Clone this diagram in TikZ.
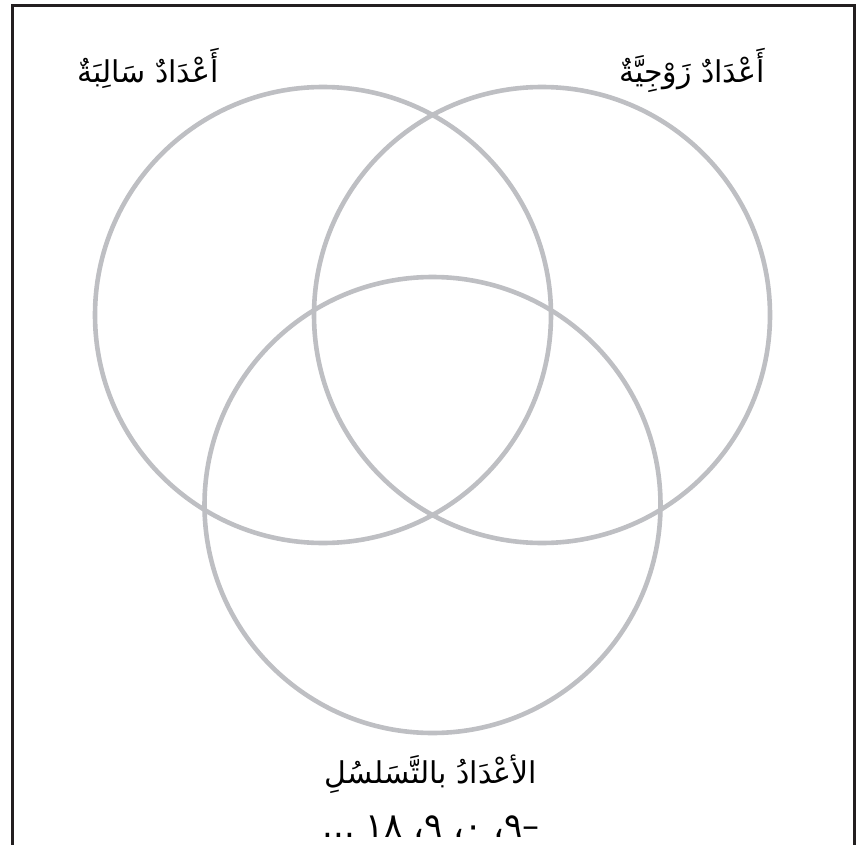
\documentclass[tikz,border=0pt]{standalone}
\usepackage{fontspec}
\TeXXeTstate=1
\newfontfamily\arabicfont[Script=Arabic]{DejaVu Sans}
\definecolor{setgray}{RGB}{190,191,195}
\definecolor{framecol}{RGB}{35,31,32}
\begin{document}
\begin{tikzpicture}[x=1pt,y=-1pt]
\tikzset{
  vset/.style={circle, draw=setgray, line width=4.6pt, minimum size=456pt, inner sep=0pt},
  lbl/.style={font=\arabicfont\fontsize{30}{34}\selectfont, inner sep=0pt, anchor=base},
  numlbl/.style={font=\arabicfont\fontsize{34}{38}\selectfont, inner sep=0pt, anchor=base},
  frameline/.style={draw=framecol, line width=3pt}
}
\useasboundingbox (0,0) rectangle (856,845);
\coordinate (fbl) at (12,846);
\coordinate (ftl) at (12,5.5);
\coordinate (ftr) at (854.5,5.5);
\coordinate (fbr) at (854.5,846);
\draw[frameline] (fbl) -- (ftl) -- (ftr) -- (fbr);
\node[vset] (neg) at (323,315) {};
\node[vset] (even) at (542,315) {};
\node[vset] (seq) at (432.5,505) {};
\node[lbl] (tneg) at (148,83) {\beginR أَعْدَادٌ سَالِبَةٌ\endR};
\node[lbl] (teven) at (692,83) {\beginR أَعْدَادٌ زَوْجِيَّةٌ\endR};
\node[lbl] (tseq) at (431,783) {\beginR الأعْدَادُ بالتَّسَلسُلِ\endR};
\node[numlbl] (tnum) at (431,837) {\beginR –٩، ٠، ٩، ١٨ ...\endR};
\end{tikzpicture}
\end{document}
